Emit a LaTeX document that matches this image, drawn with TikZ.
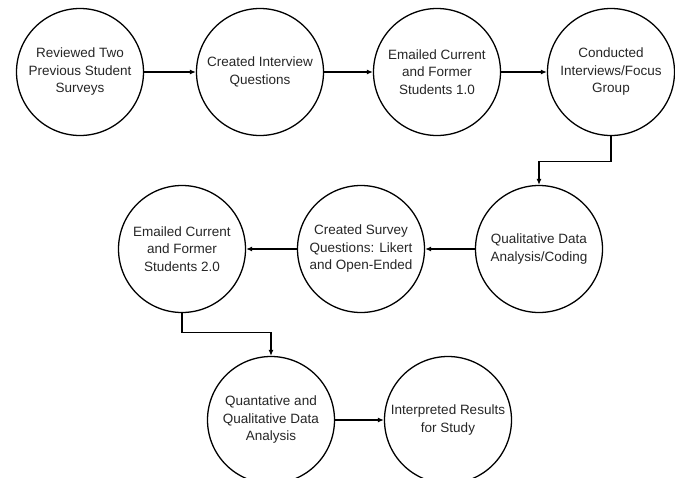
\documentclass[tikz,border=0pt]{standalone}
\usepackage{fontspec}
\setmainfont{Liberation Sans}
\usepackage{tikz}
\usetikzlibrary{arrows.meta}
\tikzset{stagecircle/.style={shape=circle,draw,line width=1.3pt,minimum size=127pt,inner sep=0pt,align=center,text=black!85,font=\fontsize{13.5}{17.5}\selectfont},
  flow/.style={line width=1.1pt,-{Latex[length=6pt,width=5pt]}}}
\newcommand{\stagenode}[4]{\node[stagecircle] (#1) at ( #2 , #3 ) {#4};}

\begin{document}
\begin{tikzpicture}[x=1pt,y=-1pt]
\useasboundingbox (0,0) rectangle (675,477);
% row 1 of circles
\stagenode{reviewed}{80}{72}{Reviewed Two\\Previous Student\\Surveys}
\stagenode{interview}{260}{72}{Created Interview\\Questions}
\stagenode{emailone}{437}{72}{Emailed Current\\and Former\\Students 1.0}
\stagenode{conducted}{611}{72}{Conducted\\Interviews/Focus\\Group}
% row 2 of circles
\stagenode{coding}{539}{249}{Qualitative Data\\Analysis/Coding}
\stagenode{survey}{361}{249}{Created Survey\\Questions: Likert\\and Open-Ended}
\stagenode{emailtwo}{182}{249}{Emailed Current\\and Former\\Students 2.0}
% row 3 of circles
\stagenode{analysis}{271}{420}{Quantative and\\Qualitative Data\\Analysis}
\stagenode{results}{448}{420}{Interpreted Results\\for Study}
% arrows
\draw[flow] (reviewed) -- (interview);
\draw[flow] (interview) -- (emailone);
\draw[flow] (emailone) -- (conducted);
\draw[flow] (conducted.south) -- ++(0,25) -| (coding.north);
\draw[flow] (coding) -- (survey);
\draw[flow] (survey) -- (emailtwo);
\draw[flow] (emailtwo.south) -- ++(0,19) -| (analysis.north);
\draw[flow] (analysis) -- (results);
\end{tikzpicture}
\end{document}
